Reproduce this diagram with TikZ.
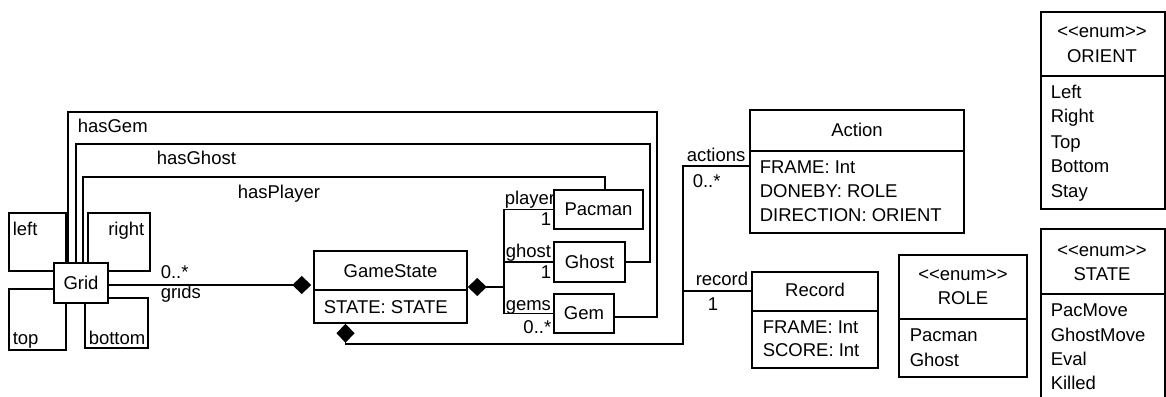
\documentclass[tikz,border=0pt]{standalone}
\usepackage{fontspec}
\setmainfont[Ligatures=NoCommon]{Liberation Sans}
\usetikzlibrary{arrows.meta}
\newcommand\enumtag{<{}<enum>{}>}
\begin{document}
\begin{tikzpicture}[x=1pt,y=-1pt,line width=1.5pt,
  txt/.style={inner sep=0pt,text height=12.5pt,text depth=0pt,font=\fontsize{18.5pt}{21pt}\selectfont},
  box/.style={draw,fill=white,inner sep=0pt},
  comp/.style={-{Diamond[length=19pt,width=18pt]}}]
\useasboundingbox (0,0) rectangle (1166,396);
\fill[white] (0,0) rectangle (1166,396);
\clip (0,0) rectangle (1166,396);

% boxes
\node[box,txt,minimum width=54pt,minimum height=40pt] (grid) at (81,283) {Grid};
\node[box,minimum width=153pt,minimum height=72pt] (gamestate) at (390.5,287) {};
\node[box,txt,minimum width=89pt,minimum height=39pt] (pacman) at (598.5,209.5) {Pacman};
\node[box,txt,minimum width=71pt,minimum height=40pt] (ghost) at (589.5,262) {Ghost};
\node[box,txt,minimum width=60pt,minimum height=39pt] (gem) at (584,313.5) {Gem};
\node[box,minimum width=214pt,minimum height=123pt] (action) at (857,171.5) {};
\node[box,minimum width=126pt,minimum height=96pt] (record) at (815,320) {};
\node[box,minimum width=128pt,minimum height=122pt] (role) at (963,316) {};
\node[box,minimum width=124pt,minimum height=197pt] (orient) at (1103,110.5) {};
\node[box,minimum width=124pt,minimum height=191pt] (state) at (1103,324.5) {};

% compartment dividers
\draw (gamestate.west |- 0,290) -- (gamestate.east |- 0,290);
\draw (action.west |- 0,151) -- (action.east |- 0,151);
\draw (record.west |- 0,311) -- (record.east |- 0,311);
\draw (role.west |- 0,319) -- (role.east |- 0,319);
\draw (orient.west |- 0,76) -- (orient.east |- 0,76);
\draw (state.west |- 0,294) -- (state.east |- 0,294);

% self associations of Grid
\draw (grid.west |- 0,271) -| (9,213) -| (grid.north -| 66,0);
\draw (grid.north -| 88,0) |- (150,213) |- (grid.east |- 0,271);
\draw (grid.west |- 0,289) -| (9,350) -| (grid.south -| 66,0);
\draw (grid.east |- 0,298) -| (148,348) -| (grid.south -| 85,0);

% associations Grid -> Gem, Ghost, Pacman
\draw (grid.north -| 68,0) |- (657,112) |- (gem.east |- 0,317);
\draw (grid.north -| 76,0) |- (650,144) |- (ghost.east);
\draw (grid.north -| 83,0) |- (605,177) -- (pacman.north -| 605,0);

% compositions
\draw[comp,shorten >=2pt] (grid.east |- 0,285) -- (gamestate.west |- 0,285);
\coordinate (j) at (504,287);
\draw[comp] (j) -- (gamestate.east);
\draw (pacman.west) -| (j) |- (gem.west);
\draw (ghost.west) -- (ghost.west -| j);
\draw[comp] (action.west |- 0,166) -| (683,344) -| (gamestate.south -| 345.5,0);
\draw (record.west |- 0,291) -- (683,291);

% class texts
\node[txt] (gst) at (390.5,271) {GameState};
\node[txt,anchor=west] (gsa) at (323,307) {STATE: STATE};
\node[txt] (act) at (857,130) {Action};
\node[txt,anchor=west] (aa1) at (759,167) {FRAME: Int};
\node[txt,anchor=west] (aa2) at (759,191) {DONEBY: ROLE};
\node[txt,anchor=west] (aa3) at (759,215) {DIRECTION: ORIENT};
\node[txt] (rect) at (815,290) {Record};
\node[txt,anchor=west] (ra1) at (762,327) {FRAME: Int};
\node[txt,anchor=west] (ra2) at (762,350) {SCORE: Int};
\node[txt] (rol1) at (963,274) {\enumtag};
\node[txt] (rol2) at (963,298) {ROLE};
\node[txt,anchor=west] (rl1) at (909,335) {Pacman};
\node[txt,anchor=west] (rl2) at (909,360) {Ghost};
\node[txt] (or1) at (1102,31) {\enumtag};
\node[txt] (or2) at (1102,56) {ORIENT};
\node[txt,anchor=west] (ol1) at (1050,92) {Left};
\node[txt,anchor=west] (ol2) at (1050,116) {Right};
\node[txt,anchor=west] (ol3) at (1050,142) {Top};
\node[txt,anchor=west] (ol4) at (1050,166) {Bottom};
\node[txt,anchor=west] (ol5) at (1050,191) {Stay};
\node[txt] (st1) at (1102,250) {\enumtag};
\node[txt] (st2) at (1102,274) {STATE};
\node[txt,anchor=west] (sl1) at (1050,310) {PacMove};
\node[txt,anchor=west] (sl2) at (1050,335) {GhostMove};
\node[txt,anchor=west] (sl3) at (1050,359) {Eval};
\node[txt,anchor=west] (sl4) at (1050,383) {Killed};

% association labels
\node[txt,anchor=west] (lleft) at (12,229) {left};
\node[txt,anchor=east] (lright) at (145,229) {right};
\node[txt,anchor=west] (ltop) at (12,338) {top};
\node[txt,anchor=west] (lbottom) at (88,338) {bottom};
\node[txt,anchor=west] (lgem) at (77,126) {hasGem};
\node[txt,anchor=west] (lghost) at (156,158) {hasGhost};
\node[txt,anchor=west] (lplayer) at (237,192) {hasPlayer};
\node[txt,anchor=west] (lgm) at (160,272) {0..*};
\node[txt,anchor=west] (lgr) at (160,292) {grids};
\node[txt,anchor=west] (lpl) at (504,198) {player};
\node[txt,anchor=east] (lpm) at (552,219) {1};
\node[txt,anchor=west] (lgh) at (505,251) {ghost};
\node[txt,anchor=east] (lghm) at (552,272) {1};
\node[txt,anchor=west] (lgs) at (505,304) {gems};
\node[txt,anchor=east] (lgsm) at (552,327) {0..*};
\node[txt,anchor=west] (lac) at (686,155) {actions};
\node[txt,anchor=west] (lacm) at (692,181) {0..*};
\node[txt,anchor=west] (lrec) at (695,279) {record};
\node[txt,anchor=west] (lrecm) at (707,304) {1};
\end{tikzpicture}
\end{document}
